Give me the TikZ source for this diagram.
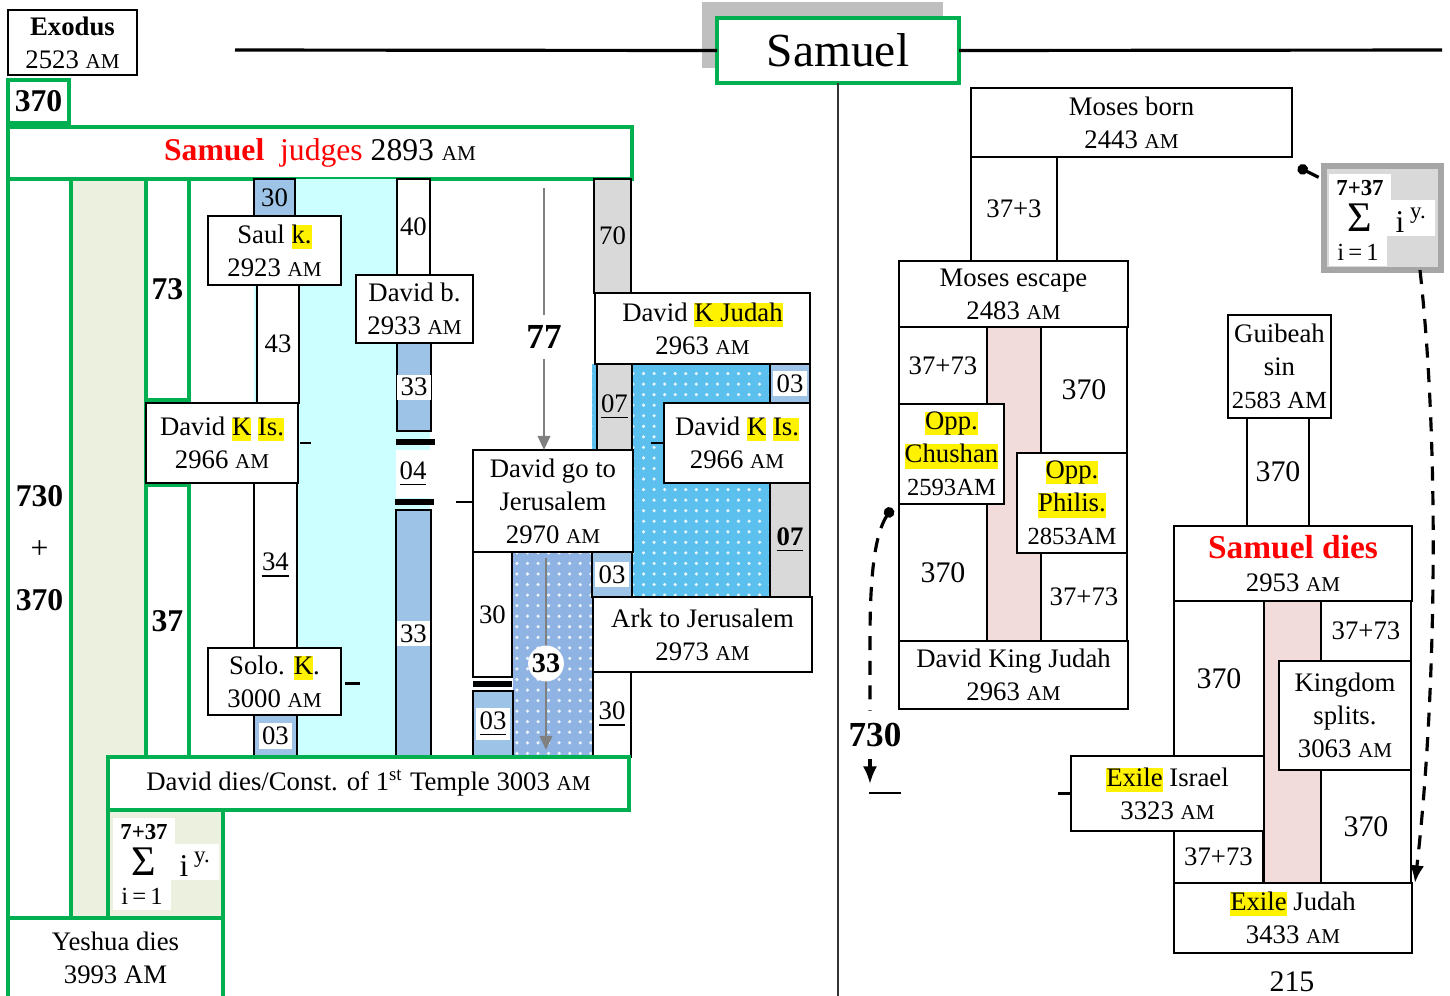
\documentclass[tikz,border=0pt]{standalone}
\usepackage{fontspec}
\setmainfont{Liberation Serif}
\usetikzlibrary{positioning,arrows.meta,patterns,calc}
\definecolor{verde}{HTML}{00B050}
\definecolor{azul}{HTML}{9DC3E6}
\definecolor{cian}{HTML}{CCFFFF}
\definecolor{gris}{HTML}{D9D9D9}
\definecolor{grisb}{HTML}{A6A6A6}
\definecolor{oliva}{HTML}{EBF1DE}
\definecolor{rosa}{HTML}{F2DCDB}
\definecolor{celeste}{HTML}{5BC0EE}
\definecolor{azulp}{HTML}{8FB4E3}
\newcommand{\AM}{{\fontsize{6}{7}\selectfont AM}}
\newcommand{\hl}[1]{{\setlength{\fboxsep}{0pt}\colorbox{yellow}{\vphantom{Ag}#1}}}
\newcommand{\wb}[1]{{\setlength{\fboxsep}{1pt}\colorbox{white}{#1}}}
\newcommand{\sm}[1]{{\fontsize{7}{9.4}\selectfont #1}}
% box from (x1,y1) to (x2,y2), in pixels
\newcommand{\bx}[7][]{\node[b,#1,minimum width={(#5-#3)*0.01cm},minimum height={(#6-#4)*0.01cm}] (#2) at ({(#3+#5)/2},{(#4+#6)/2}) {#7};}
% sum block, top left corner at (#2,#3)
\newcommand{\suma}[3]{%
  \fill[white] (#2+5,#3+8) rectangle (#2+67,#3+34);
  \fill[white] (#2+5,#3+34) rectangle (#2+111,#3+70);
  \fill[white] (#2+5,#3+70) rectangle (#2+63,#3+100);
  \node[font=\bfseries\fontsize{6.5}{7}\selectfont] (#1a) at (#2+36,#3+22) {7+37};
  \node[font=\fontsize{12}{12}\selectfont] (#1b) at (#2+36,#3+52) {Σ};
  \node[font=\fontsize{9}{10}\selectfont] (#1c) at (#2+76,#3+56) {i};
  \node[font=\fontsize{6.5}{7}\selectfont] (#1d) at (#2+94,#3+50) {y.};
  \node[font=\fontsize{7}{8}\selectfont] (#1e) at (#2+34,#3+86) {i\,=\,1};}

\begin{document}
\begin{tikzpicture}[x=0.01cm,y=-0.01cm,font=\fontsize{7.6}{9.4}\selectfont,
    b/.style={draw,line width=0.6pt,inner sep=0pt,outer sep=0pt,align=center,fill=white},
    g/.style={draw=verde,line width=1.3pt},
    nb/.style={font=\bfseries\fontsize{9}{10}\selectfont},
    n9/.style={font=\fontsize{8.5}{10}\selectfont},
    ga/.style={draw=gray,line width=0.8pt,-{Triangle[length=4pt,width=3.5pt]}},
    dsh/.style={line width=0.9pt,dash pattern=on 4pt off 3pt}]
  \useasboundingbox (0,0) rectangle (1450,996);

  % title
  \fill[gray!50] (702,2) rectangle (943,68);
  \bx[g,font=\fontsize{13.5}{16}\selectfont]{titulo}{717}{18}{959}{83}{Samuel}
  \draw[line width=0.9pt] (235,50) -- (titulo.west);
  \draw[line width=0.9pt] (titulo.east) -- (1442,50);
  \draw[line width=0.8pt,black!80] (titulo.south) -- (838,996);

  % left part
  \bx{exodo}{8}{10}{137}{75}{\textbf{Exodus}\\2523 \AM}
  \bx[g,nb]{c370}{8}{80}{69}{123}{370}
  \bx[g,font=\bfseries\fontsize{9}{14.8}\selectfont]{col1}{8}{179}{71}{918}{730\\{\mdseries +}\\370}
  \bx[g,fill=oliva]{col2}{71}{179}{146}{918}{}
  \bx[g,nb]{c73}{146}{179}{189}{400}{73}
  \bx[g,nb]{c37}{146}{485}{189}{757}{37}
  \bx[g,font=\fontsize{9}{10}\selectfont]{juez}{8}{127}{632}{179}{{\color{red}\bfseries Samuel}~~{\color{red}judges} 2893 \AM}

  \fill[cian] (254,179) rectangle (430,757);
  \bx[fill=azul]{a30}{254}{179}{295}{216}{30}
  \bx{saul}{208}{216}{341}{285}{Saul \hl{k.}\\2923 \AM}
  \bx{y43}{257}{285}{299}{403}{43}
  \bx{dkisl}{146}{403}{298}{483}{David \hl{K} \hl{Is.}\\2966 \AM}
  \bx{y34}{254}{483}{297}{648}{\underline{34}}
  \bx{solo}{208}{648}{341}{715}{Solo. \hl{K}.\\3000 \AM}
  \bx[fill=azul]{a03a}{254}{715}{297}{757}{\wb{03}}
  \bx{y40}{397}{179}{430}{275}{40}
  \bx{davb}{356}{275}{473}{343}{David b.\\2933 \AM}
  \bx[fill=azul]{a33a}{397}{343}{431}{431}{\wb{33}}
  \fill[white] (396,450) rectangle (430,498);
  \node (n04) at (413,474) {\underline{04}};
  \draw[line width=1.6pt] (396,442) -- (435,442);
  \draw[line width=1.6pt] (395,502) -- (434,502);
  \bx[fill=azul]{a33b}{396}{510}{431}{757}{\wb{33}}

  % middle
  \fill[celeste] (592,364) rectangle (810,597);
  \fill[pattern=dots,pattern color=white!85!celeste] (592,364) rectangle (810,597);
  \fill[azulp] (513,552) rectangle (592,757);
  \fill[pattern=dots,pattern color=white!85!azulp] (513,552) rectangle (592,757);
  \bx[fill=gris]{g70}{594}{179}{631}{293}{70}
  \bx{dkj1}{595}{293}{810}{364}{David \hl{K Judah}\\2963 \AM}
  \bx[fill=gris]{g07a}{597}{364}{632}{450}{\underline{07}}
  \bx[fill=azul]{a03b}{770}{364}{810}{403}{\wb{03}}
  \bx{dkisr}{664}{403}{810}{483}{David \hl{K} \hl{Is.}\\2966 \AM}
  \bx[fill=gris]{g07b}{770}{483}{810}{597}{\textbf{\underline{07}}}
  \bx{dgo}{473}{450}{633}{552}{David go to\\Jerusalem\\2970 \AM}
  \bx[fill=azul]{a03c}{592}{552}{632}{597}{\wb{03}}
  \bx{ark}{593}{597}{812}{672}{Ark to Jerusalem\\2973 \AM}
  \bx{y30b}{593}{672}{631}{757}{\underline{30}}
  \bx{y30a}{473}{552}{512}{677}{30}
  \draw[line width=1.6pt] (473,684) -- (512,684);
  \bx[fill=azul]{a03d}{473}{691}{513}{757}{\wb{\underline{03}}}

  \bx[g]{ddies}{108}{757}{629}{810}{David dies/Const. of 1\textsuperscript{st} Temple 3003 \AM}
  \bx[g,fill=oliva]{sumL}{108}{810}{223}{918}{}
  \suma{sl}{108}{810}
  \bx[g]{yeshua}{8}{918}{223}{998}{Yeshua dies\\3993 AM}

  \coordinate (a77) at (544,188);
  \draw[ga] (a77) -- (a77 |- dgo.north) node[pos=0.57,fill=white,inner sep=3pt,font=\bfseries]{77};
  \coordinate (a33) at (546,558);
  \draw[ga,shorten >=2pt] (a33) -- (a33 |- ddies.north) node[pos=0.53,circle,fill=white,inner sep=0.2pt,font=\bfseries\fontsize{8}{9}\selectfont]{33};

  % ticks
  \draw[line width=0.8pt] (dkisl.east) ++(2,0) -- ++(11,0);
  \draw[line width=0.8pt] (solo.east) ++(4,2) -- ++(15,0);
  \draw[line width=0.8pt] (dgo.west) ++(-17,1) -- ++(16,0);
  \draw[line width=0.8pt] (dkisr.west) ++(-13,0) -- ++(13,0);

  % right part
  \bx[fill=rosa]{rosa1}{987}{327}{1041}{641}{}
  \bx{mborn}{971}{88}{1292}{157}{Moses born\\2443 \AM}
  \bx{m373}{971}{157}{1057}{261}{37+3}
  \bx{mesc}{899}{261}{1128}{327}{Moses escape\\2483 \AM}
  \bx{r1}{899}{327}{987}{404}{37+73}
  \bx[n9]{r2}{1041}{327}{1127}{453}{370}
  \bx{chus}{899}{404}{1004}{504}{\hl{Opp.}\\\hl{Chushan}\\\sm{2593AM}}
  \bx{phil}{1017}{453}{1127}{553}{\hl{Opp.}\\\hl{Philis.}\\\sm{2853AM}}
  \bx[n9]{r3}{899}{504}{987}{641}{370}
  \bx{r4}{1041}{553}{1127}{641}{37+73}
  \bx{dkj2}{899}{641}{1128}{709}{David King Judah\\2963 \AM}

  \bx[fill=rosa]{rosa2}{1264}{601}{1321}{883}{}
  \bx{guib}{1228}{315}{1331}{418}{Guibeah\\sin\\\sm{2583 AM}}
  \bx[n9]{r5}{1247}{418}{1309}{526}{370}
  \bx{sdies}{1174}{526}{1412}{601}{{\color{red}\bfseries\fontsize{9.5}{11}\selectfont Samuel dies}\\2953 \AM}
  \bx[n9]{r6}{1174}{601}{1264}{756}{370}
  \bx{r7}{1321}{601}{1411}{661}{37+73}
  \bx{ksp}{1279}{661}{1411}{770}{Kingdom\\splits.\\3063 \AM}
  \bx{exis}{1071}{756}{1264}{831}{\hl{Exile} Israel\\3323 \AM}
  \bx{r8}{1174}{831}{1263}{883}{37+73}
  \bx[n9]{r9}{1321}{770}{1411}{883}{370}
  \bx{exju}{1174}{883}{1412}{953}{\hl{Exile} Judah\\3433 \AM}
  \node[n9] (n215) at (1292,982) {215};

  \bx[draw=grisb,line width=1.5pt,fill=gris]{sumR}{1324}{166}{1441}{270}{}
  \suma{sr}{1324}{166}

  % dashed links
  \coordinate (p1) at (1298,167);
  \draw[dsh,{Circle[length=3pt]}-] (p1) -- ([yshift=-0.14cm]sumR.north west);
  \draw[dsh,-{Latex[length=5pt,width=4pt]}] ([xshift=-0.21cm]sumR.south east) .. controls (1440,450) and (1436,700) .. ([xshift=0.03cm]exju.north east);
  \coordinate (p2) at (892,508);
  \coordinate (e730) at (870,784);
  \node[font=\bfseries\fontsize{10}{12}\selectfont] (t730) at (875,735) {730};
  \draw[dsh,{Circle[length=3pt]}-] (p2) .. controls (874,535) and (870,580) .. (870,640) -- (e730 |- t730.north);
  \draw[dsh,-{Latex[length=5pt,width=4pt]}] (e730 |- t730.south) -- (e730);
  \draw[line width=0.8pt] (e730) ++(-1,9) -- ++(32,0);
  \draw[line width=0.8pt] (exis.west) ++(-13,0) -- ++(12,0);
\end{tikzpicture}
\end{document}
